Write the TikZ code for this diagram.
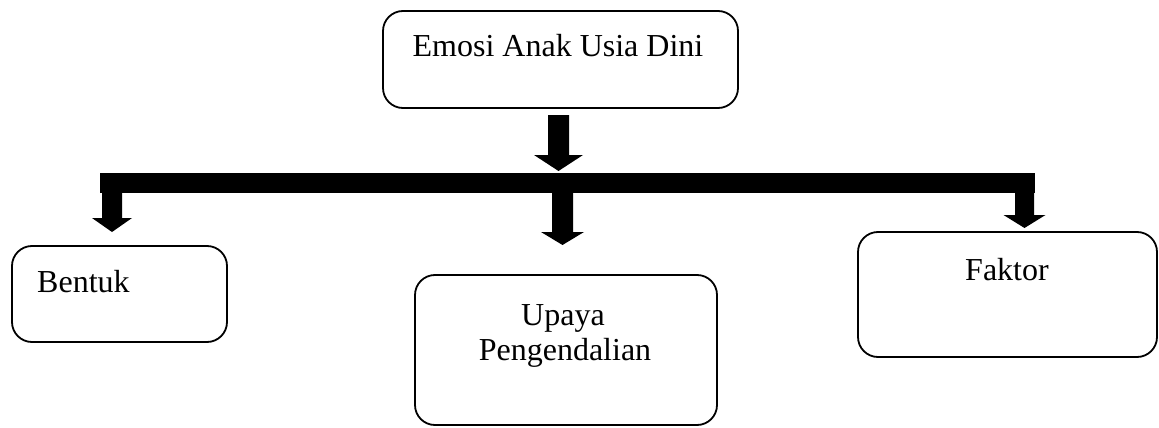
\documentclass[tikz,border=0pt]{standalone}
\usepackage{fontspec}
\setmainfont{Liberation Serif}
\newcommand\blockdown[6]{% center x, shaft top, head top, tip, half shaft, half head
  \fill (#1-#5,#2) -- (#1+#5,#2) -- (#1+#5,#3) -- (#1+#6,#3) -- (#1,#4) -- (#1-#6,#3) -- (#1-#5,#3) -- cycle;}
\begin{document}
\begin{tikzpicture}[x=1pt,y=-1pt,
  box/.style={draw, line width=1.8pt, rounded corners=20pt, inner sep=0pt},
  lbl/.style={font=\fontsize{32}{36}\selectfont, inner sep=0pt, anchor=base}]
\useasboundingbox (0,0) rectangle (1159,428);
% boxes
\node[box, minimum width=355pt, minimum height=97pt] (root) at (560.5,59.5) {};
\node[box, minimum width=215pt, minimum height=96pt] (bentuk) at (119.5,294) {};
\node[box, minimum width=302pt, minimum height=150pt] (upaya) at (566,350) {};
\node[box, minimum width=299pt, minimum height=125pt] (faktor) at (1007.5,294.5) {};
% labels
\node[lbl] (t0) at (558,57) {Emosi Anak Usia Dini};
\node[lbl, anchor=base west] (t1) at (37,292) {Bentuk};
\node[lbl] (t2a) at (563,325) {Upaya};
\node[lbl] (t2b) at (565,360) {Pengendalian};
\node[lbl] (t3) at (1007,280) {Faktor};
% connectors: bar and block arrows
\fill (100,173) rectangle (1035,193);
\blockdown{558.5}{115}{155}{171}{10.5}{24.5}
\blockdown{562.5}{190}{232}{245}{10.5}{21.5}
\blockdown{112}{190}{218}{232}{10}{20}
\blockdown{1024.5}{190}{215}{228}{9.5}{21}
\end{tikzpicture}
\end{document}
